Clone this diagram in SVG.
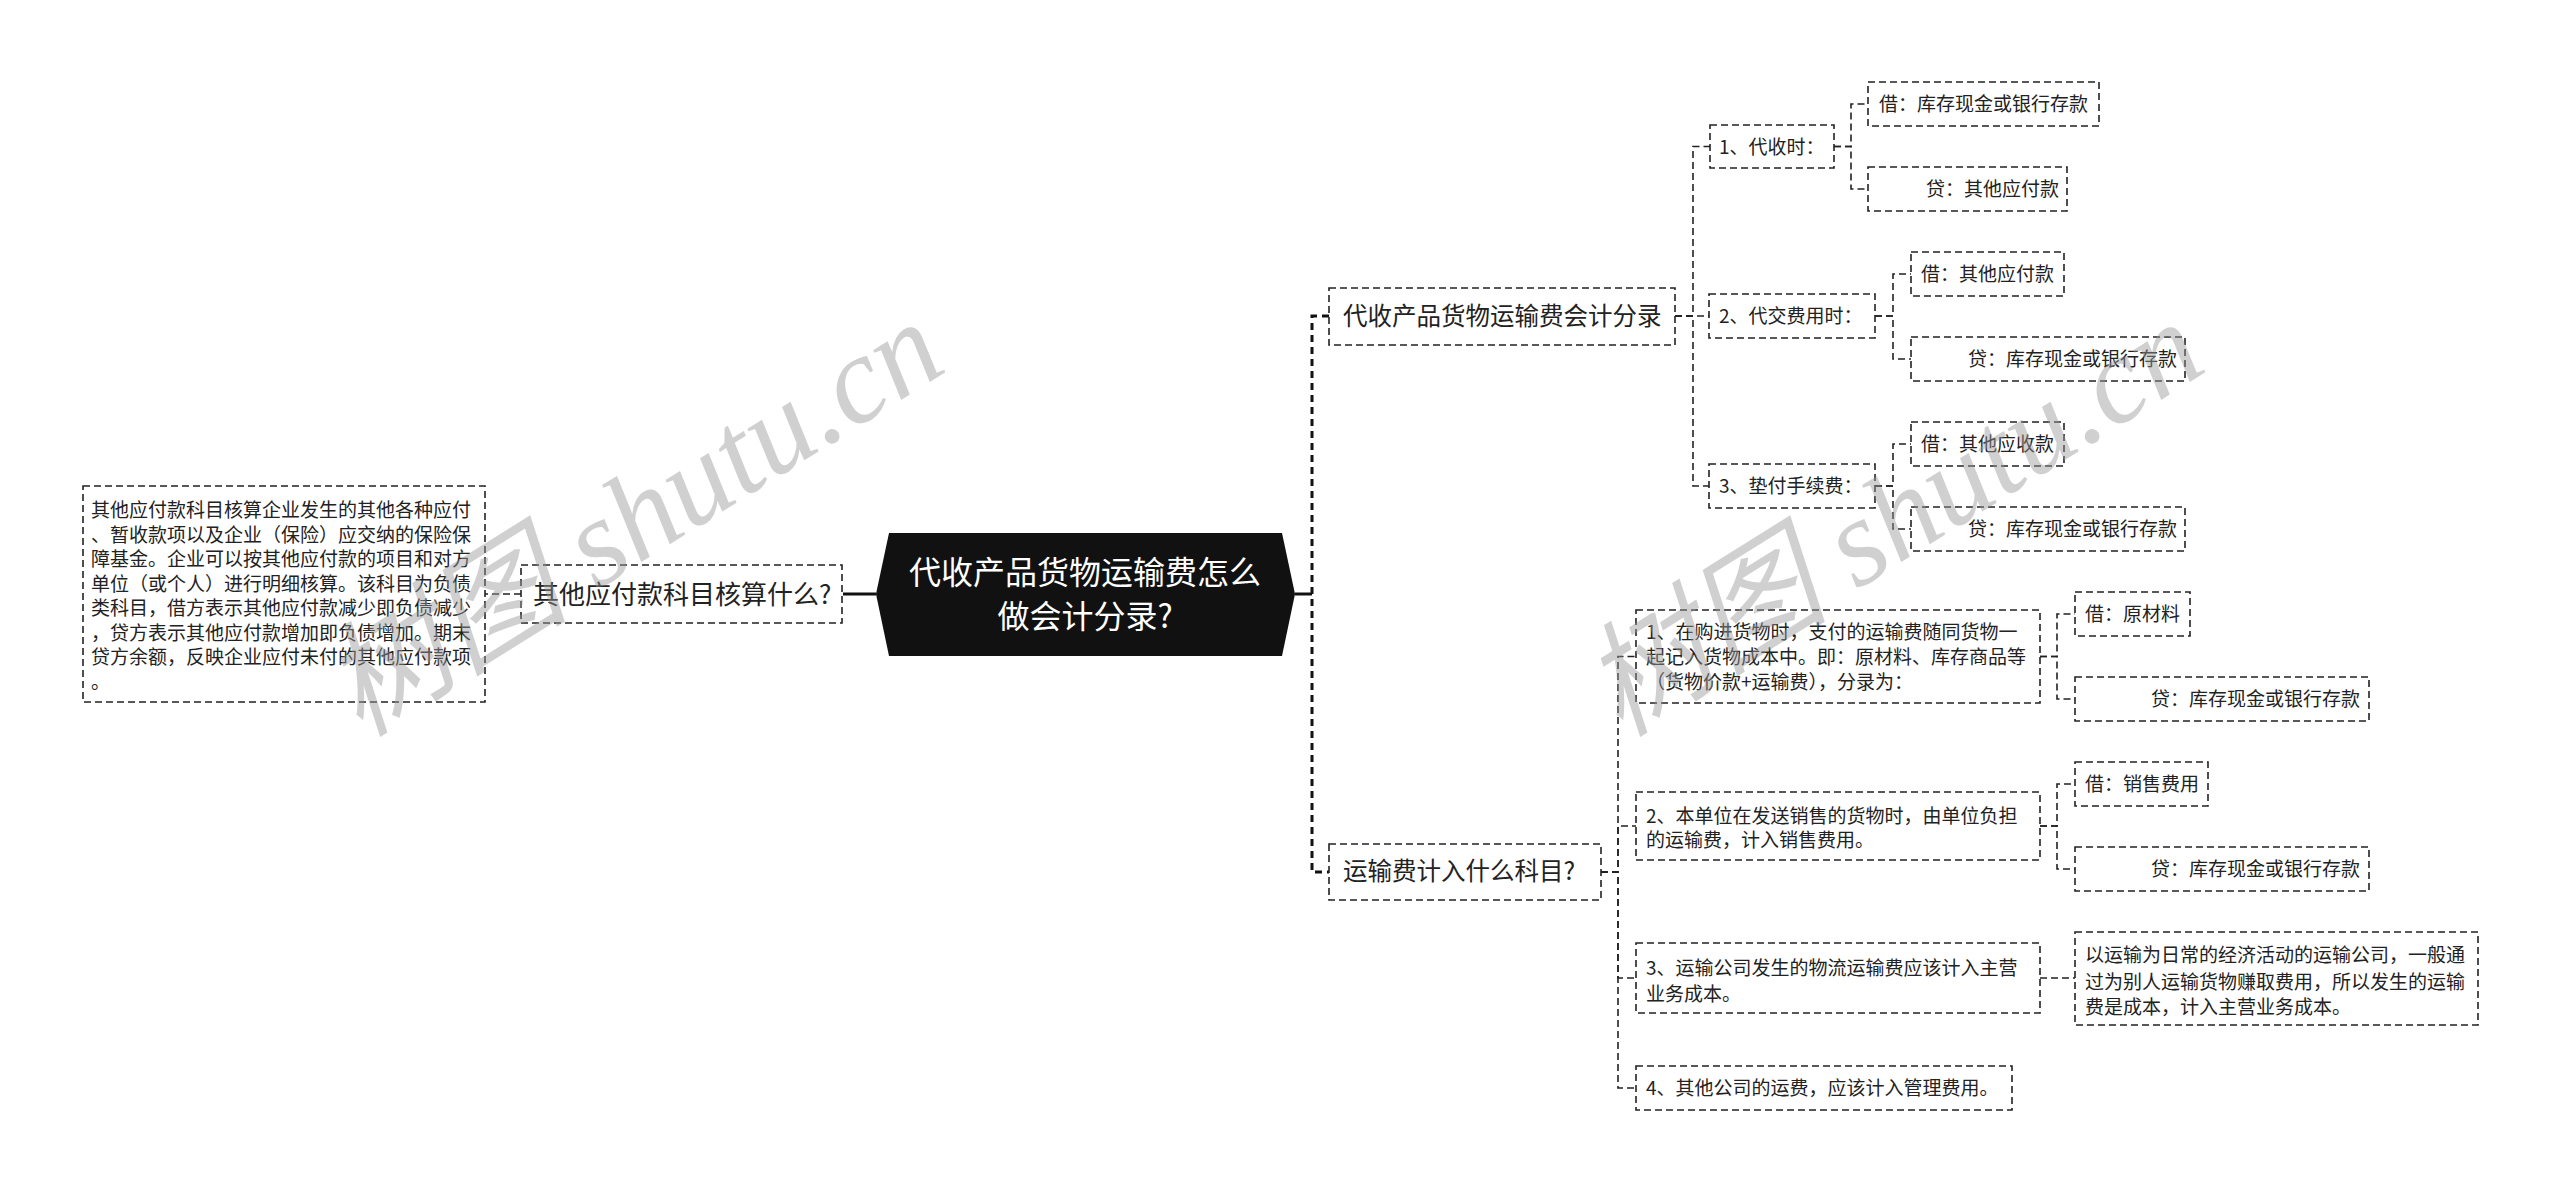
<svg xmlns="http://www.w3.org/2000/svg" width="2560" height="1192" viewBox="0 0 2560 1192">
<style>
.box{fill:#fff;stroke:#222;stroke-width:1.6;stroke-dasharray:7 4}
.conn{fill:none;stroke:#222;stroke-width:1.6;stroke-dasharray:7 4}
.trunk{fill:none;stroke:#111;stroke-width:3;stroke-dasharray:7 5}
.solid{fill:none;stroke:#111;stroke-width:3}
.t{font-family:"Noto Sans CJK SC","Noto Sans",sans-serif;font-size:19px;fill:#222}
.t1{font-family:"Noto Sans CJK SC","Noto Sans",sans-serif;font-size:24.5px;fill:#222}
.tc{font-family:"Noto Sans CJK SC","Noto Sans",sans-serif;font-size:32px;fill:#fff;text-anchor:middle}
.end{text-anchor:end}
.wm{font-family:"Liberation Serif","Noto Sans CJK SC",serif;font-style:italic;font-size:124px;fill:#999;opacity:0.45}
</style>
<rect width="2560" height="1192" fill="#fff"/>
<g id="connectors">
<path class="solid" d="M876,594 H843"/>
<path class="conn" d="M521,594 H485"/>
<path class="solid" d="M1295,594 H1312"/>
<path class="trunk" d="M1329,316 H1312 V872 H1329"/>
<path class="conn" d="M1675,316 H1693 V146.5 H1710"/>
<path class="conn" d="M1675,316 H1709"/>
<path class="conn" d="M1675,316 H1693 V486 H1709"/>
<path class="conn" d="M1834,146.5 H1851 V104 H1868"/>
<path class="conn" d="M1834,146.5 H1851 V189 H1868"/>
<path class="conn" d="M1875,316 H1893 V274 H1911"/>
<path class="conn" d="M1875,316 H1893 V359 H1911"/>
<path class="conn" d="M1875,486 H1893 V444 H1911"/>
<path class="conn" d="M1875,486 H1893 V529 H1911"/>
<path class="conn" d="M1601,872 H1618 V656.5 H1636"/>
<path class="conn" d="M1601,872 H1618 V826 H1636"/>
<path class="conn" d="M1601,872 H1618 V978 H1636"/>
<path class="conn" d="M1601,872 H1618 V1088 H1636"/>
<path class="conn" d="M2040,656.5 H2057 V614 H2075"/>
<path class="conn" d="M2040,656.5 H2057 V699 H2075"/>
<path class="conn" d="M2040,826 H2057 V784 H2075"/>
<path class="conn" d="M2040,826 H2057 V869 H2075"/>
<path class="conn" d="M2040,978 H2075"/>
</g>
<g id="center">
<polygon points="889,533 1282,533 1295,594 1282,656 889,656 876,594" fill="#111"/>
<text class="tc" x="1085" y="584">代收产品货物运输费怎么</text>
<text class="tc" x="1085" y="628">做会计分录?</text>
</g>
<g id="left1">
<rect class="box" x="521" y="565" width="321" height="58"/>
<text class="t1" x="533" y="604" style="font-size:26px">其他应付款科目核算什么?</text>
</g>
<g id="left1-note">
<rect class="box" x="83" y="486" width="402" height="216"/>
<text class="t" x="91" y="517">其他应付款科目核算企业发生的其他各种应付</text>
<text class="t" x="91" y="542">、暂收款项以及企业（保险）应交纳的保险保</text>
<text class="t" x="91" y="566">障基金。企业可以按其他应付款的项目和对方</text>
<text class="t" x="91" y="591">单位（或个人）进行明细核算。该科目为负债</text>
<text class="t" x="91" y="615">类科目，借方表示其他应付款减少即负债减少</text>
<text class="t" x="91" y="640">，贷方表示其他应付款增加即负债增加。期末</text>
<text class="t" x="91" y="664">贷方余额，反映企业应付未付的其他应付款项</text>
<text class="t" x="91" y="689">。</text>
</g>
<g id="r1">
<rect class="box" x="1329" y="288" width="346" height="57"/>
<text class="t1" x="1343" y="325">代收产品货物运输费会计分录</text>
</g>
<g id="r2">
<rect class="box" x="1329" y="844" width="272" height="56"/>
<text class="t1" x="1343" y="880">运输费计入什么科目?</text>
</g>
<g id="a1">
<rect class="box" x="1710" y="125" width="124" height="43"/>
<text class="t" x="1719" y="153.5">1、代收时：</text>
</g>
<g id="a1a">
<rect class="box" x="1868" y="82" width="231" height="44"/>
<text class="t" x="1879" y="111">借：库存现金或银行存款</text>
</g>
<g id="a1b">
<rect class="box" x="1868" y="167" width="199" height="44"/>
<text class="t end" x="2059" y="196">贷：其他应付款</text>
</g>
<g id="a2">
<rect class="box" x="1709" y="294" width="166" height="44"/>
<text class="t" x="1719" y="323">2、代交费用时：</text>
</g>
<g id="a2a">
<rect class="box" x="1911" y="252" width="153" height="44"/>
<text class="t" x="1921" y="281">借：其他应付款</text>
</g>
<g id="a2b">
<rect class="box" x="1911" y="337" width="274" height="44"/>
<text class="t end" x="2177" y="366">贷：库存现金或银行存款</text>
</g>
<g id="a3">
<rect class="box" x="1709" y="464" width="166" height="44"/>
<text class="t" x="1719" y="493">3、垫付手续费：</text>
</g>
<g id="a3a">
<rect class="box" x="1911" y="422" width="153" height="44"/>
<text class="t" x="1921" y="451">借：其他应收款</text>
</g>
<g id="a3b">
<rect class="box" x="1911" y="507" width="274" height="44"/>
<text class="t end" x="2177" y="536">贷：库存现金或银行存款</text>
</g>
<g id="b1">
<rect class="box" x="1636" y="610" width="404" height="93"/>
<text class="t" x="1646" y="639">1、在购进货物时，支付的运输费随同货物一</text>
<text class="t" x="1646" y="664">起记入货物成本中。即：原材料、库存商品等</text>
<text class="t" x="1646" y="689">（货物价款+运输费），分录为：</text>
</g>
<g id="b1a">
<rect class="box" x="2075" y="592" width="115" height="44"/>
<text class="t" x="2085" y="621">借：原材料</text>
</g>
<g id="b1b">
<rect class="box" x="2075" y="677" width="294" height="44"/>
<text class="t end" x="2360" y="706">贷：库存现金或银行存款</text>
</g>
<g id="b2">
<rect class="box" x="1636" y="792" width="404" height="68"/>
<text class="t" x="1646" y="823">2、本单位在发送销售的货物时，由单位负担</text>
<text class="t" x="1646" y="847">的运输费，计入销售费用。</text>
</g>
<g id="b2a">
<rect class="box" x="2075" y="762" width="133" height="44"/>
<text class="t" x="2085" y="791">借：销售费用</text>
</g>
<g id="b2b">
<rect class="box" x="2075" y="847" width="294" height="44"/>
<text class="t end" x="2360" y="876">贷：库存现金或银行存款</text>
</g>
<g id="b3">
<rect class="box" x="1636" y="943" width="404" height="70"/>
<text class="t" x="1646" y="975">3、运输公司发生的物流运输费应该计入主营</text>
<text class="t" x="1646" y="1001">业务成本。</text>
</g>
<g id="b3a">
<rect class="box" x="2075" y="932" width="403" height="93"/>
<text class="t" x="2085" y="962">以运输为日常的经济活动的运输公司，一般通</text>
<text class="t" x="2085" y="989">过为别人运输货物赚取费用，所以发生的运输</text>
<text class="t" x="2085" y="1014">费是成本，计入主营业务成本。</text>
</g>
<g id="b4">
<rect class="box" x="1636" y="1066" width="376" height="44"/>
<text class="t" x="1646" y="1095">4、其他公司的运费，应该计入管理费用。</text>
</g>
<g id="watermark">
<text class="wm" transform="translate(360,738) rotate(-32)">树图 shutu.cn</text>
<text class="wm" transform="translate(1620,738) rotate(-32)">树图 shutu.cn</text>
</g>
</svg>
